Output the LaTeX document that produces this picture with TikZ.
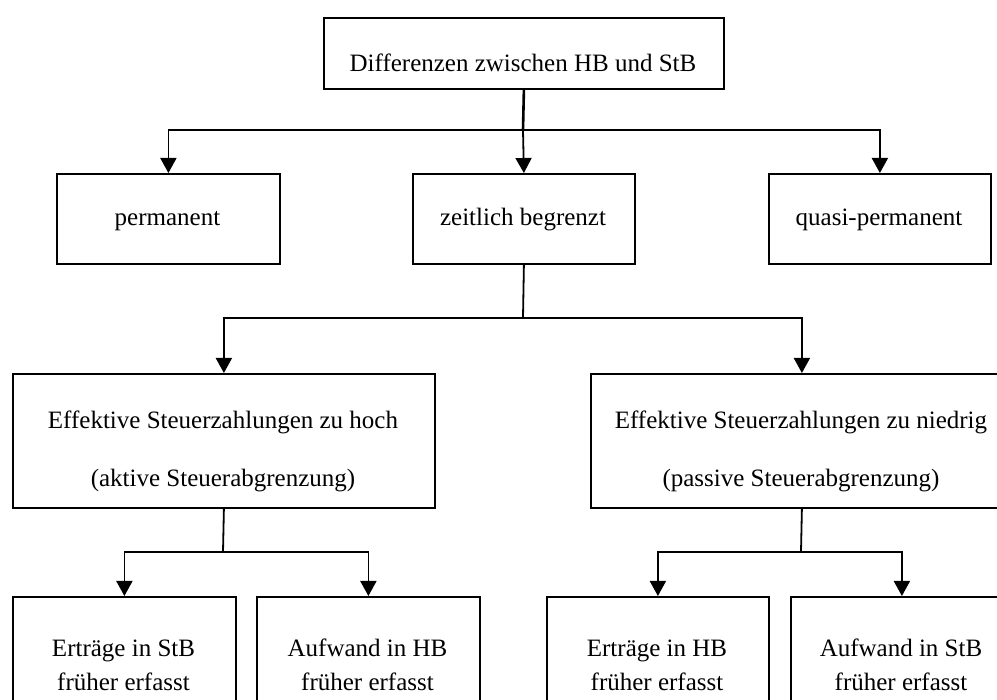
\documentclass[tikz,border=0pt]{standalone}
\usepackage{fontspec}
\setmainfont{Liberation Serif}
\usetikzlibrary{arrows.meta}
\begin{document}
\begin{tikzpicture}[x=1pt,y=-1pt,
  box/.style={draw,line width=1.8pt,rectangle,inner sep=0pt,anchor=north west},
  lbl/.style={anchor=base,inner sep=0pt,font=\fontsize{25}{30}\selectfont},
  conn/.style={line width=1.8pt},
  arr/.style={line width=1.8pt,-{Triangle[length=15pt,width=16pt]}},
  stemline/.style={line width=2.6pt}]
\useasboundingbox (0,0) rectangle (997,700);
\clip (0,0) rectangle (997,700);

% boxes
\node[box,minimum width=400pt,minimum height=71pt] (root) at (323,17) {};
\node[box,minimum width=223pt,minimum height=90pt] (perm) at (56,173) {};
\node[box,minimum width=222pt,minimum height=90pt] (zeit) at (412,173) {};
\node[box,minimum width=222pt,minimum height=90pt] (quasi) at (768,173) {};
\node[box,minimum width=422pt,minimum height=134pt] (hoch) at (12,373) {};
\node[box,minimum width=422pt,minimum height=134pt] (niedrig) at (590,373) {};
\node[box,minimum width=223pt,minimum height=134pt] (e1) at (12,596) {};
\node[box,minimum width=223pt,minimum height=134pt] (a1) at (256,596) {};
\node[box,minimum width=222pt,minimum height=134pt] (e2) at (546,596) {};
\node[box,minimum width=222pt,minimum height=134pt] (a2) at (790,596) {};

% texts
\node[lbl] (rootT) at (523,72) {Differenzen zwischen HB und StB};
\node[lbl] (permT) at (167.5,226) {permanent};
\node[lbl] (zeitT) at (523,226) {zeitlich begrenzt};
\node[lbl] (quasiT) at (879,226) {quasi-permanent};
\node[lbl] (hochT1) at (223,429) {Effektive Steuerzahlungen zu hoch};
\node[lbl] (hochT2) at (223,487) {(aktive Steuerabgrenzung)};
\node[lbl] (niedrigT1) at (801,429) {Effektive Steuerzahlungen zu niedrig};
\node[lbl] (niedrigT2) at (801,487) {(passive Steuerabgrenzung)};
\node[lbl] (e1T1) at (123.5,656) {Erträge in StB};
\node[lbl] (e1T2) at (123.5,690) {früher erfasst};
\node[lbl] (a1T1) at (367.5,656) {Aufwand in HB};
\node[lbl] (a1T2) at (367.5,690) {früher erfasst};
\node[lbl] (e2T1) at (657,656) {Erträge in HB};
\node[lbl] (e2T2) at (657,690) {früher erfasst};
\node[lbl] (a2T1) at (901,656) {Aufwand in StB};
\node[lbl] (a2T2) at (901,690) {früher erfasst};

% junctions
\coordinate (j1) at (523,130);
\coordinate (j2) at (523,318);
\coordinate (j3) at (223,552);
\coordinate (j4) at (801,552);

% connectors
\draw[stemline] (root.south) -- (j1);
\draw[arr] (j1) -| (perm.north);
\draw[arr] (j1) -| (quasi.north);
\draw[arr] (j1) -- (zeit.north);

\draw[conn] (zeit.south) -- (j2);
\draw[arr] (j2) -| (hoch.north);
\draw[arr] (j2) -| (niedrig.north);

\draw[conn] (hoch.south) -- (j3);
\draw[arr] (j3) -| (e1.north);
\draw[arr] (j3) -| (a1.north);

\draw[conn] (niedrig.south) -- (j4);
\draw[arr] (j4) -| (e2.north);
\draw[arr] (j4) -| (a2.north);
\end{tikzpicture}
\end{document}
